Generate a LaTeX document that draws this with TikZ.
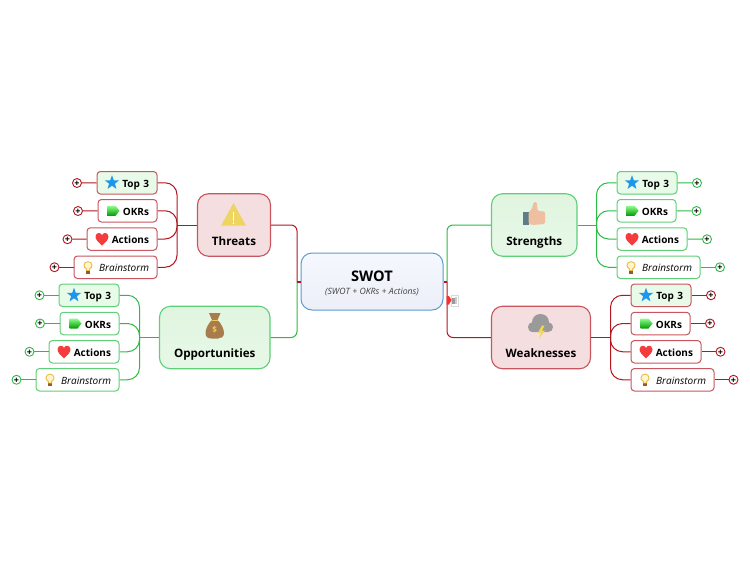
\documentclass[tikz,border=0pt]{standalone}
\usepackage{fontspec}
\setmainfont{Open Sans}
\usepackage{xcolor}
\definecolor{linegreen}{HTML}{2DBB45}
\definecolor{linered}{HTML}{B3161E}
\definecolor{edgegreen}{HTML}{5FCF78}
\definecolor{edgered}{HTML}{C9565E}
\definecolor{fillgreen}{HTML}{E0F5E0}
\definecolor{fillred}{HTML}{F5DEDF}
\definecolor{fillstar}{HTML}{E8FAE8}
\definecolor{edgeblue}{HTML}{5B9BD0}
\definecolor{topblue}{HTML}{F5F8FE}
\definecolor{lowblue}{HTML}{ECEFF7}

\begin{document}
\begin{tikzpicture}[x=1pt,y=-1pt]
\tikzset{
	staricon/.pic={\fill[sharp corners,color={rgb,255:red,30;green,150;blue,235}] (0,-7.5) -- (1.8,-2.4) -- (7.1,-2.3) -- (2.9,.9) -- (4.4,6.1) -- (0,3) -- (-4.4,6.1) -- (-2.9,.9) -- (-7.1,-2.3) -- (-1.8,-2.4) -- cycle;},
	tagicon/.pic={\shade[sharp corners,top color=green!45!white,bottom color=green!60!black] (-6,-5) -- (2,-5) -- (6,0) -- (2,5) -- (-6,5) -- cycle;},
	hearticon/.pic={\fill[sharp corners,color={rgb,255:red,245;green,60;blue,60}] (0,6.5) .. controls (-4,3) and (-6.5,.5) .. (-6.5,-2.5) .. controls (-6.5,-5) and (-4.5,-6) .. (-3.2,-6) .. controls (-1.5,-6) and (-.5,-5) .. (0,-3.8) .. controls (.5,-5) and (1.5,-6) .. (3.2,-6) .. controls (4.5,-6) and (6.5,-5) .. (6.5,-2.5) .. controls (6.5,.5) and (4,3) .. (0,6.5) -- cycle;},
	bulbicon/.pic={
		\fill[sharp corners,color={rgb,255:red,150;green,90;blue,40}] (-1.8,3) rectangle (1.8,6.5);
		\draw[sharp corners,line width=.9pt,draw={rgb,255:red,235;green,185;blue,70},fill={rgb,255:red,255;green,246;blue,205}] (-1.6,3.2) -- (-1.6,1.6) .. controls (-3.4,.6) and (-4,-.6) .. (-4,-2) .. controls (-4,-4.3) and (-2.2,-5.6) .. (0,-5.6) .. controls (2.2,-5.6) and (4,-4.3) .. (4,-2) .. controls (4,-.6) and (3.4,.6) .. (1.6,1.6) -- (1.6,3.2) -- cycle;
	}
}
\tikzstyle{branch} = [rectangle,rounded corners=11pt,line width=1.1pt,inner sep=0pt,font=\fontsize{11.6}{14}\selectfont\bfseries,text height=41pt,text depth=1pt,minimum height=62.5pt]
\tikzstyle{greenbranch} = [branch,draw=edgegreen,top color=fillgreen,bottom color=fillgreen!75!white]
\tikzstyle{redbranch} = [branch,draw=edgered,fill=fillred]
\tikzstyle{leaf} = [rectangle,rounded corners=3.5pt,line width=1pt,inner xsep=8pt,inner ysep=0pt,align=right,minimum height=22.5pt,text height=10pt,text depth=1pt,font=\fontsize{10}{12}\selectfont\bfseries]
\tikzstyle{topbox} = [leaf,fill=fillstar,text width=44pt,path picture={\pic at ([xshift=15pt]path picture bounding box.west) {staricon};}]
\tikzstyle{okrbox} = [leaf,fill=white,text width=43pt,path picture={\pic at ([xshift=15.5pt]path picture bounding box.west) {tagicon};}]
\tikzstyle{actionbox} = [leaf,fill=white,text width=54pt,path picture={\pic at ([xshift=15pt]path picture bounding box.west) {hearticon};}]
\tikzstyle{brainbox} = [leaf,fill=white,text width=67pt,font=\fontsize{10}{12}\selectfont\itshape,path picture={\pic at ([xshift=14pt]path picture bounding box.west) {bulbicon};}]
\tikzstyle{plusdot} = [circle,fill=white,line width=.9pt,inner sep=0pt,minimum size=9pt,text=black,text height=6.6pt,text depth=0pt,font=\fontsize{9}{9}\selectfont\bfseries]
\tikzstyle{greenline} = [draw=linegreen,line width=1pt,rounded corners=12pt]
\tikzstyle{redline} = [draw=linered,line width=1pt,rounded corners=12pt]

	% centre
	\node[rectangle,rounded corners=11pt,line width=1pt,draw=edgeblue,top color=topblue,bottom color=lowblue,minimum width=142pt,minimum height=57pt,inner sep=0pt,align=center] (swot) at (372,281.5) {{\rule{0pt}{14.5pt}\fontsize{14.6}{16}\selectfont\bfseries SWOT}\\[1pt]{\fontsize{8.7}{10}\selectfont\itshape\color{black!75} (SWOT + OKRs + Actions)}};
	\node[redbranch,minimum width=73pt] (threats) at (234,225) {Threats};
	\node[greenbranch,minimum width=110.5pt] (opps) at (214.75,337.5) {Opportunities};
	\node[greenbranch,minimum width=85.5pt] (strengths) at (534.25,225) {Strengths};
	\node[redbranch,minimum width=99pt] (weak) at (541,337.5) {Weaknesses};

	% threats
	\node[topbox,draw=edgered] (t1) at (127,182.75) {Top 3};
	\node[okrbox,draw=edgered] (t2) at (127.5,210.75) {OKRs};
	\node[actionbox,draw=edgered] (t3) at (122,239) {Actions};
	\node[brainbox,draw=edgered] (t4) at (115.5,267.25) {Brainstorm};
	\node[plusdot,draw=linered] (t1p) at (77,183) {+};
	\node[plusdot,draw=linered] (t2p) at (78,211) {+};
	\node[plusdot,draw=linered] (t3p) at (67.5,239.25) {+};
	\node[plusdot,draw=linered] (t4p) at (54.5,267.25) {+};
	\coordinate (tj) at (177,225);

	% opportunities
	\node[topbox,draw=edgegreen] (o1) at (89,295.25) {Top 3};
	\node[okrbox,draw=edgegreen] (o2) at (89.5,323.5) {OKRs};
	\node[actionbox,draw=edgegreen] (o3) at (84,351.75) {Actions};
	\node[brainbox,draw=edgegreen] (o4) at (77.5,379.75) {Brainstorm};
	\node[plusdot,draw=linegreen] (o1p) at (39.5,295.25) {+};
	\node[plusdot,draw=linegreen] (o2p) at (40,323.5) {+};
	\node[plusdot,draw=linegreen] (o3p) at (29.5,351.75) {+};
	\node[plusdot,draw=linegreen] (o4p) at (16.5,379.75) {+};
	\coordinate (oj) at (139.5,337.5);

	% strengths
	\node[topbox,draw=edgegreen] (s1) at (647,182.75) {Top 3};
	\node[okrbox,draw=edgegreen] (s2) at (646.5,210.75) {OKRs};
	\node[actionbox,draw=edgegreen] (s3) at (652,239) {Actions};
	\node[brainbox,draw=edgegreen] (s4) at (658.5,267.25) {Brainstorm};
	\node[plusdot,draw=linegreen] (s1p) at (697,183) {+};
	\node[plusdot,draw=linegreen] (s2p) at (696.5,211) {+};
	\node[plusdot,draw=linegreen] (s3p) at (707,239.25) {+};
	\node[plusdot,draw=linegreen] (s4p) at (720,267.25) {+};
	\coordinate (sj) at (596.5,225);

	% weaknesses
	\node[topbox,draw=edgered] (w1) at (661,295.25) {Top 3};
	\node[okrbox,draw=edgered] (w2) at (660.5,323.5) {OKRs};
	\node[actionbox,draw=edgered] (w3) at (666,351.75) {Actions};
	\node[brainbox,draw=edgered] (w4) at (672.5,379.75) {Brainstorm};
	\node[plusdot,draw=linered] (w1p) at (711,295.25) {+};
	\node[plusdot,draw=linered] (w2p) at (710,323.5) {+};
	\node[plusdot,draw=linered] (w3p) at (720.5,351.75) {+};
	\node[plusdot,draw=linered] (w4p) at (733.5,379.75) {+};
	\coordinate (wj) at (610.5,337.5);

	% connectors
	\foreach \n in {1,2,3,4}{
		\draw[redline] (t\n.east) -| (tj);
		\draw[greenline] (o\n.east) -| (oj);
		\draw[greenline] (s\n.west) -| (sj);
		\draw[redline] (w\n.west) -| (wj);
		\draw[redline,rounded corners=0pt] (t\n p) -- (t\n);
		\draw[greenline,rounded corners=0pt] (o\n p) -- (o\n);
		\draw[greenline,rounded corners=0pt] (s\n p) -- (s\n);
		\draw[redline,rounded corners=0pt] (w\n p) -- (w\n);
	}
	\draw[redline] (tj) -- (threats.west);
	\draw[greenline] (oj) -- (opps.west);
	\draw[greenline] (sj) -- (strengths.east);
	\draw[redline] (wj) -- (weak.east);
	\coordinate (lj) at (297,281.5);
	\coordinate (rj) at (447,281.5);
	\draw[redline,rounded corners=6pt] (threats.east) -| (lj);
	\draw[greenline,rounded corners=6pt] (opps.east) -| (lj);
	\draw[greenline,rounded corners=6pt] (strengths.west) -| (rj);
	\draw[redline,rounded corners=6pt] (weak.west) -| (rj);
	\draw[linered,line width=2pt] (lj) -- (swot.west);
	\draw[linered,line width=2pt] (rj) -- (swot.east);

	% note marker
	\fill[black!15] (450.5,294.5) rectangle (458.5,306.5);
	\fill[white] (451.5,295.5) rectangle (457.5,305.5);
	\fill[black!40] (451.5,298) rectangle (454.5,304);
	\fill[black!20] (454.5,297) rectangle (457,304);
	\fill[color={rgb,255:red,245;green,50;blue,50}] (446.5,296) -- (449,296) -- (451.5,300) -- (449,304.5) -- (446.5,304.5) -- cycle;

	% threats icon
	\fill[color={rgb,255:red,238;green,212;blue,96}] (233.5,203) -- (246,225.7) -- (221,225.7) -- cycle;
	\fill[white] (233,212) rectangle (234.2,220.5);
	\fill[white] (233,222) rectangle (234.2,223.5);

	% opportunities icon
	\fill[color={rgb,255:red,168;green,124;blue,76}] (209,313) -- (220.5,313) -- (217.5,320) .. controls (221,323) and (224,329) .. (224,333) .. controls (224,337) and (221,338.5) .. (218,338.5) -- (211.5,338.5) .. controls (208,338.5) and (205.5,337) .. (205.5,333) .. controls (205.5,329) and (208.5,323) .. (212,320) -- cycle;
	\draw[color={rgb,255:red,240;green,205;blue,90},line width=.9pt] (211.5,320) -- (218,320);
	\node[text={rgb,255:red,240;green,205;blue,90},font=\fontsize{8}{8}\selectfont\bfseries,inner sep=0pt] (dollar) at (214.75,330) {\$};

	% strengths icon
	\fill[color={rgb,255:red,95;green,125;blue,136}] (523,212) rectangle (528.5,225);
	\fill[color={rgb,255:red,238;green,191;blue,160},rounded corners=1.5pt] (528.5,212) -- (532,209) -- (533.5,202) -- (537,202) -- (537.5,211) -- (545,211.5) -- (545,224) -- (532,225) -- (528.5,223.5) -- cycle;

	% weaknesses icon
	\fill[color={rgb,255:red,154;green,154;blue,154}] (533,332) .. controls (529,332) and (528,329) .. (528,327) .. controls (528,324) and (530,322.5) .. (532,322.5) .. controls (532,317) and (536,314) .. (540.5,314) .. controls (545,314) and (549,317) .. (549,322.5) .. controls (551.5,322.5) and (553,325) .. (553,327) .. controls (553,330) and (551,332) .. (548,332) -- cycle;
	\fill[color={rgb,255:red,240;green,216;blue,80}] (542,325.5) -- (538,332.5) -- (541,332.5) -- (539,338.5) -- (545,330.5) -- (542,330.5) -- (544.5,325.5) -- cycle;

	\useasboundingbox (0,0) rectangle (750,563);
\end{tikzpicture}
\end{document}
